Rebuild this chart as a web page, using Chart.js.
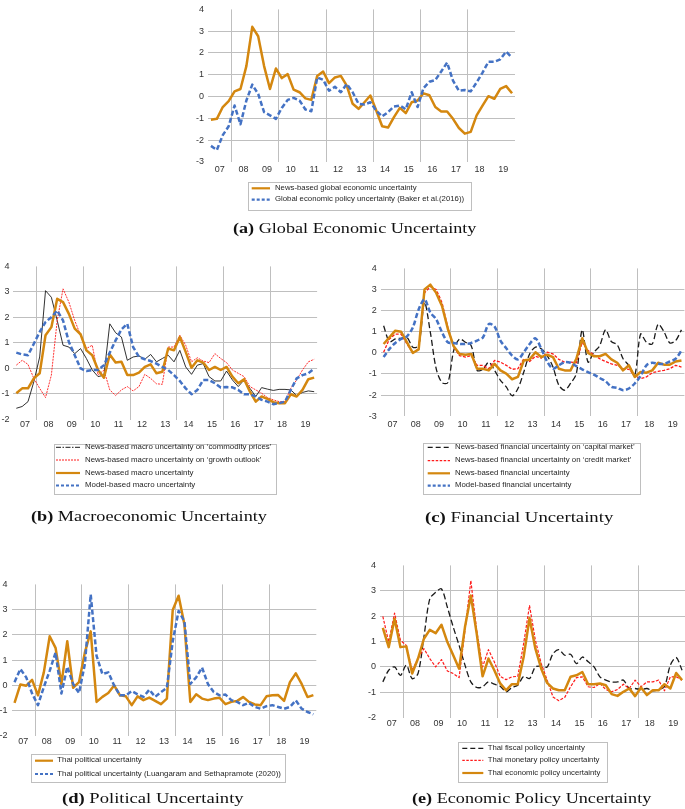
<!DOCTYPE html>
<html>
<head>
<meta charset="utf-8">
<script src="https://cdn.jsdelivr.net/npm/chart.js@4.4.0/dist/chart.umd.min.js"></script>
<style>
body { margin:0; background:#fff; width:685px; height:809px; position:relative; overflow:hidden; font-family:"Liberation Sans", Arial, sans-serif; }
canvas { position:absolute; }
.legend { position:absolute; border:1px solid #bfbfbf; box-sizing:border-box; }
.ltext { position:absolute; white-space:nowrap; color:#262626; line-height:1; }
.caption { position:absolute; white-space:nowrap; font-family:"Liberation Serif", "Times New Roman", serif; color:#111; line-height:1; transform-origin:left center; }
#samples { position:absolute; left:0; top:0; }
</style>
</head>
<body>
<canvas id="ca"></canvas>
<canvas id="cb"></canvas>
<canvas id="cc"></canvas>
<canvas id="cd"></canvas>
<canvas id="ce"></canvas>
<svg id="samples" width="685" height="809"></svg>
<script>
// quarterly data, 2007Q1 - 2019Q4
const yearLabels = ['07','08','09','10','11','12','13','14','15','16','17','18','19'];

// (a) Global economic uncertainty
const aNews = [-1.06,-1.02,-0.48,-0.21,0.24,0.35,1.4,3.2,2.77,1.4,
  0.35,1.29,0.85,1.03,0.32,0.2,-0.08,-0.15,0.95,1.15,
  0.62,0.88,0.95,0.5,-0.33,-0.56,-0.26,0.05,-0.64,-1.36,
  -1.42,-0.94,-0.52,-0.76,-0.26,-0.18,0.15,0.06,-0.48,-0.68,
  -0.68,-1.02,-1.44,-1.7,-1.62,-0.86,-0.41,0.02,-0.1,0.35,
  0.48,0.15];
const aBaker = [-2.26,-2.45,-1.77,-1.36,-0.41,-1.27,-0.18,0.55,0.12,-0.71,
  -0.86,-1.02,-0.52,-0.15,-0.06,-0.18,-0.59,-0.67,0.88,0.77,
  0.27,0.45,0.2,0.58,0.2,-0.33,-0.36,-0.26,-0.64,-0.91,
  -0.71,-0.45,-0.41,-0.58,0.2,-0.48,0.39,0.68,0.76,1.15,
  1.56,0.73,0.27,0.3,0.24,0.65,1.1,1.6,1.6,1.71,
  2.06,1.79];

// (b) Macroeconomic uncertainty
const bCommodity = [-1.56,-1.49,-1.3,-0.52,0.45,3.05,2.79,1.88,0.91,0.84,
  0.58,0.78,0.39,-0.06,-0.32,-0.26,1.75,1.4,1.23,0.32,
  0.45,0.49,0.36,0.55,0.26,0.39,0.52,0.26,0.71,0.06,
  -0.23,0.13,0.19,-0.32,-0.49,-0.49,-0.1,-0.45,-0.71,-0.45,
  -0.78,-1.1,-0.75,-0.81,-0.86,-0.82,-0.82,-0.84,-1.06,-0.94,
  -0.88,-0.91];
const bGrowth = [0.13,0.32,0.16,-0.39,-0.78,-1.14,-0.26,1.88,3.12,2.6,
  1.88,1.3,0.78,0.91,-0.26,-0.06,-0.84,-1.06,-0.84,-0.71,
  -0.88,-0.71,-0.23,-0.39,-0.6,-0.62,0.84,0.84,1.3,0.91,
  0.26,0.42,0.29,0.23,0.58,0.39,0.23,-0.06,-0.19,-0.32,
  -0.71,-0.84,-0.97,-1.14,-1.23,-1.3,-1.3,-0.78,-0.45,-0.06,
  0.26,0.36];
const bNews = [-0.97,-0.78,-0.78,-0.39,-0.19,1.3,1.62,2.73,2.6,2.14,
  1.56,1.34,0.71,0.52,-0.06,-0.36,0.55,0.23,0.26,-0.26,
  -0.26,-0.16,0.06,0.16,-0.19,-0.13,0.78,0.71,1.23,0.65,
  0.03,0.32,0.23,-0.06,0.06,-0.06,0.06,-0.32,-0.58,-0.42,
  -0.91,-1.3,-1.1,-1.19,-1.32,-1.36,-1.36,-1.01,-1.1,-0.84,
  -0.42,-0.36];
const bModel = [0.62,0.55,0.52,0.97,1.43,1.82,2.01,2.27,1.88,1.04,
  0.52,0,-0.1,-0.06,-0.06,0.13,0.62,1.1,1.53,1.75,
  0.84,0.45,0.36,0.29,0.19,0.06,-0.06,-0.26,-0.49,-0.78,
  -1.01,-0.84,-0.45,-0.45,-0.58,-0.75,-0.73,-0.74,-0.84,-1.01,
  -1.01,-1.1,-1.23,-1.3,-1.4,-1.36,-1.3,-0.84,-0.39,-0.26,
  -0.19,0];

// (c) Financial uncertainty
const cCapital = [1.28,0.53,0.66,0.69,0.73,0.27,0.34,2.38,0.97,-0.75,
  -1.41,-1.41,0.11,0.66,0.5,0.34,-0.83,-0.78,-0.44,-0.83,
  -1.3,-1.61,-2.03,-1.69,-0.91,-0.05,0.27,0.19,-0.13,-0.67,
  -1.53,-1.77,-1.45,-0.98,1.09,-0.44,0.03,0.34,1.09,0.53,
  0.38,-0.28,-0.59,-1.06,0.89,0.5,0.42,1.36,1.0,0.47,
  0.58,1.09];
const cCredit = [0.03,0.66,0.89,0.89,0.42,0,0.19,2.84,3.13,3.0,
  2.38,1.2,0.27,-0.13,-0.2,-0.13,-0.59,-0.59,-0.75,-0.36,
  -0.44,-0.59,-0.78,-0.75,-0.28,-0.41,-0.16,-0.25,0.03,-0.05,
  -0.31,-0.44,-0.44,-0.47,0.5,0.11,-0.09,-0.28,-0.41,-0.52,
  -0.59,-0.75,-0.78,-1.09,-1.22,-1.14,-0.94,-0.88,-0.83,-0.75,
  -0.59,-0.67];
const cNews = [0.42,0.73,1.05,1.0,0.5,0,0.16,3.0,3.23,2.84,
  2.22,1.13,0.31,-0.05,-0.09,-0.05,-0.75,-0.75,-0.83,-0.52,
  -0.83,-0.98,-1.25,-1.14,-0.36,-0.31,0.03,-0.2,-0.09,-0.2,
  -0.75,-0.83,-0.83,-0.28,0.69,0,-0.16,-0.16,-0.05,-0.31,
  -0.47,-0.83,-0.59,-1.14,-0.91,-0.94,-0.83,-0.47,-0.56,-0.56,
  -0.41,-0.36];
const cModel = [-0.2,0.19,0.47,0.66,0.78,1.2,2.06,2.53,1.91,1.59,
  0.97,0.5,0.47,0.42,0.42,0.47,0.58,0.73,1.36,1.25,
  0.58,0.22,-0.13,-0.31,0.03,0.42,0.69,0.19,-0.41,-0.75,
  -0.59,-0.44,-0.47,-0.63,-0.78,-0.91,-1.03,-1.19,-1.34,-1.61,
  -1.66,-1.77,-1.69,-1.45,-1.09,-0.59,-0.47,-0.52,-0.52,-0.41,
  -0.28,0.11];

// (d) Political uncertainty
const dThai = [-0.69,0.04,-0.01,0.22,-0.39,0.52,1.95,1.49,0.06,1.75,
  -0.09,0.13,1.3,2.14,-0.65,-0.45,-0.3,0,-0.39,-0.43,
  -0.78,-0.43,-0.58,-0.48,-0.61,-0.74,-0.52,2.99,3.55,2.4,
  -0.65,-0.35,-0.52,-0.58,-0.52,-0.49,-0.74,-0.65,-0.61,-0.46,
  -0.65,-0.75,-0.78,-0.43,-0.39,-0.38,-0.61,0.13,0.48,0.06,
  -0.46,-0.38];
const dLuang = [0.13,0.65,0.32,-0.32,-0.78,-0.06,0.58,1.3,-0.32,0.74,
  0.06,-0.3,0.84,3.6,1.17,0.45,0.52,0,-0.39,-0.39,
  -0.22,-0.35,-0.45,-0.17,-0.45,-0.26,-0.09,1.75,2.95,2.53,
  0.06,0.32,0.71,0.06,-0.26,-0.39,-0.36,-0.58,-0.65,-0.78,
  -0.69,-0.85,-0.92,-0.82,-0.78,-0.85,-0.92,-0.85,-0.59,-0.92,
  -1.05,-1.14];

// (e) Economic policy uncertainty
const eFiscal = [-0.59,-0.13,0,-0.33,0.07,-0.46,-0.26,1.18,2.68,2.94,
  3.07,2.35,1.57,0.85,0.07,-0.59,-0.81,-0.78,-0.59,-0.68,
  -0.76,-0.98,-0.81,-0.72,-0.37,-0.46,0,0.03,0,0.52,
  0.68,0.46,0.5,0.13,0.39,0.2,0,-0.39,-0.52,-0.59,
  -0.59,-0.52,-0.85,-0.85,-0.89,-0.85,-0.94,-0.89,-0.78,0.07,
  0.37,-0.13];
const eMonetary = [1.99,0.98,2.12,1.05,0.85,-0.13,0.33,0.72,0.33,0,
  0.29,-0.16,-0.26,-0.42,1.44,3.4,1.44,0,0.68,0.2,
  -0.37,-0.5,-0.39,-0.37,0.92,2.42,1.05,0.13,-0.52,-1.18,
  -1.33,-1.2,-0.78,-0.42,-0.39,-0.78,-0.81,-0.65,-0.89,-0.98,
  -0.89,-0.68,-0.85,-0.52,-0.78,-0.59,-0.59,-0.52,-0.94,-0.39,
  -0.39,-0.52];
const eEPU = [1.54,0.78,1.9,0.78,0.81,-0.26,0.33,1.11,1.46,1.33,
  1.66,0.98,0.46,-0.07,1.57,2.81,1.31,-0.37,0.33,-0.13,
  -0.65,-0.92,-0.68,-0.68,0.39,1.93,0.72,-0.07,-0.63,-0.85,
  -0.92,-0.92,-0.39,-0.33,-0.2,-0.68,-0.68,-0.65,-0.72,-1.07,
  -1.14,-0.98,-0.85,-1.15,-0.81,-1.11,-0.92,-0.92,-0.68,-0.85,
  -0.24,-0.52];

const ORANGE = '#D4870F';
const BLUE = '#4472C4';
const BLACK = '#1a1a1a';
const RED = '#FF1A1A';
const GRID = '#BFBFBF';

// year label sits in the middle of its 4 quarters, grid every 2 years
const labelTicks = yearLabels.map((_, k) => 4 * k + 1.5);
const gridTicks = [3.5, 11.5, 19.5, 27.5, 35.5, 43.5];

Chart.defaults.font.family = '"Liberation Sans", Arial, sans-serif';

function series(values, color, width, dash, tension) {
    return {
        data: values.map((v, i) => ({ x: i, y: v })),
        borderColor: color,
        borderWidth: width,
        borderDash: dash || [],
        borderJoinStyle: 'round',
        pointRadius: 0,
        tension: tension || 0,
        fill: false
    };
}

function drawPanel(id, box, yMin, yMax, xPad, sets) {
    const canvas = document.getElementById(id);
    const cLeft = Math.floor(box.left - 30);
    const yw = box.left - cLeft;
    const cTop = Math.floor(box.top - 8);
    const pt = box.top - cTop;
    const cw = box.right - box.left, ch = box.bottom - box.top;
    const W = Math.ceil(yw + cw), H = Math.ceil(pt + ch + 16);
    const pr = W - yw - cw;
    const xh = H - pt - ch;
    canvas.width = W; canvas.height = H;
    canvas.style.left = cLeft + 'px'; canvas.style.top = cTop + 'px';
    canvas.style.width = W + 'px'; canvas.style.height = H + 'px';
    sets.forEach((s, i) => { s.order = sets.length - i; });

    new Chart(canvas, {
        type: 'line',
        data: { datasets: sets },
        options: {
            responsive: false, animation: false, devicePixelRatio: 1,
            layout: { padding: { top: pt, right: pr, left: 0, bottom: 0 } },
            plugins: { legend: { display: false }, tooltip: { enabled: false } },
            scales: {
                x: {
                    type: 'linear', min: -0.5, max: 51.5,
                    afterFit: s => { s.height = xh; },
                    afterBuildTicks: s => {
                        s.ticks = labelTicks.concat(gridTicks).sort((a, b) => a - b).map(v => ({ value: v }));
                    },
                    ticks: {
                        autoSkip: false, maxRotation: 0, minRotation: 0, padding: xPad,
                        color: '#333', font: { size: 9 },
                        callback: v => { const k = labelTicks.indexOf(v); return k >= 0 ? yearLabels[k] : ''; }
                    },
                    grid: {
                        drawTicks: false, lineWidth: 1,
                        color: c => (c.tick && gridTicks.includes(c.tick.value)) ? GRID : 'rgba(0,0,0,0)'
                    },
                    border: { display: false }
                },
                y: {
                    min: yMin, max: yMax,
                    afterFit: s => { s.width = yw; },
                    ticks: { stepSize: 1, padding: 4, color: '#333', font: { size: 9 }, callback: v => String(v) },
                    grid: {
                        drawTicks: false, lineWidth: 1,
                        color: c => (c.tick && (c.tick.value === yMin || c.tick.value === yMax)) ? 'rgba(0,0,0,0)' : GRID
                    },
                    border: { display: false }
                }
            }
        }
    });
}

drawPanel('ca', { left: 208, right: 515, top: 8, bottom: 162 }, -3, 4, 2, [
    series(aNews, ORANGE, 2.5),
    series(aBaker, BLUE, 2.5, [5, 2.5])
]);
drawPanel('cb', { left: 13.4, right: 317.1, top: 265.9, bottom: 419.5 }, -2, 4, 0, [
    series(bCommodity, BLACK, 0.9),
    series(bGrowth, RED, 0.9, [2, 1]),
    series(bNews, ORANGE, 2.5),
    series(bModel, BLUE, 2.5, [5, 2.5])
]);
drawPanel('cc', { left: 380.7, right: 684.4, top: 267.1, bottom: 416.2 }, -3, 4, 3, [
    series(cCapital, BLACK, 1.3, [6, 3], 0.3),
    series(cCredit, RED, 1.3, [3, 1.5]),
    series(cNews, ORANGE, 2.5),
    series(cModel, BLUE, 2.5, [5, 2.5], 0.3)
]);
drawPanel('cd', { left: 11.6, right: 316.3, top: 583, bottom: 736 }, -2, 4, 0.5, [
    series(dThai, ORANGE, 2.5),
    series(dLuang, BLUE, 2.5, [5, 2.5])
]);
drawPanel('ce', { left: 379.9, right: 685, top: 564.7, bottom: 717.7 }, -2, 4, 0.5, [
    series(eFiscal, BLACK, 1.3, [6, 3], 0.3),
    series(eMonetary, RED, 1.2, [3, 1.5]),
    series(eEPU, ORANGE, 2.5)
]);

// Legends
const svg = document.getElementById('samples');
function sample(x0, x1, y, color, width, dash) {
    const l = document.createElementNS('http://www.w3.org/2000/svg', 'line');
    l.setAttribute('x1', x0); l.setAttribute('x2', x1);
    l.setAttribute('y1', y); l.setAttribute('y2', y);
    l.setAttribute('stroke', color); l.setAttribute('stroke-width', width);
    if (dash) l.setAttribute('stroke-dasharray', dash);
    svg.appendChild(l);
}

function legend(box, sx0, sx1, tx, refRow, refWidth, rows) {
    const d = document.createElement('div');
    d.className = 'legend';
    d.style.left = box[0] + 'px'; d.style.top = box[1] + 'px';
    d.style.width = (box[2] - box[0]) + 'px'; d.style.height = (box[3] - box[1]) + 'px';
    document.body.appendChild(d);
    const spans = rows.map(r => {
        const s = document.createElement('span');
        s.className = 'ltext';
        s.textContent = r.label;
        s.style.fontSize = '8px';
        s.style.left = tx + 'px';
        document.body.appendChild(s);
        sample(sx0, sx1, r.y, r.color, r.width, r.dash);
        return s;
    });
    const size = 8 * refWidth / spans[refRow].getBoundingClientRect().width;
    spans.forEach((s, i) => {
        s.style.fontSize = size + 'px';
        s.style.top = (rows[i].y - size * 0.55) + 'px';
    });
}

legend([248, 182, 472, 211], 251.7, 270, 275, 0, 141.7, [
    { y: 188.3, label: 'News-based global economic uncertainty', color: ORANGE, width: 2.2 },
    { y: 199.7, label: 'Global economic policy uncertainty (Baker et al.(2016))', color: BLUE, width: 2.2, dash: '3 2' }
]);
legend([54, 444, 277, 495], 56, 80, 85, 0, 186.7, [
    { y: 447.3, label: 'News-based macro uncertainty on \u2018commodity prices\u2019', color: BLACK, width: 1, dash: '5 1.5 1.5 1.5' },
    { y: 460, label: 'News-based macro uncertainty on \u2018growth outlook\u2019', color: RED, width: 1, dash: '2 1' },
    { y: 473, label: 'News-based macro uncertainty', color: ORANGE, width: 2.2 },
    { y: 485.5, label: 'Model-based macro uncertainty', color: BLUE, width: 2.2, dash: '3 2' }
]);
legend([423, 443, 641, 495], 427.7, 450, 455, 0, 180, [
    { y: 447.3, label: 'News-based financial uncertainty on \u2018capital market\u2019', color: BLACK, width: 1.3, dash: '5 3' },
    { y: 460.7, label: 'News-based financial uncertainty on \u2018credit market\u2019', color: RED, width: 1.2, dash: '2.5 1.5' },
    { y: 473.3, label: 'News-based financial uncertainty', color: ORANGE, width: 2.2 },
    { y: 485.7, label: 'Model-based financial uncertainty', color: BLUE, width: 2.2, dash: '3 2' }
]);
legend([31, 754, 286, 783], 35, 53, 57.3, 1, 224.3, [
    { y: 760.7, label: 'Thai political uncertainty', color: ORANGE, width: 2.2 },
    { y: 774, label: 'Thai political uncertainty (Luangaram and Sethapramote (2020))', color: BLUE, width: 2.2, dash: '3 2' }
]);
legend([457.7, 742, 607.7, 783], 462.3, 483.3, 487.7, 0, 97.3, [
    { y: 748.3, label: 'Thai fiscal policy uncertainty', color: BLACK, width: 1.3, dash: '5 3' },
    { y: 760.3, label: 'Thai monetary policy uncertainty', color: RED, width: 1.2, dash: '2.5 1.5' },
    { y: 773, label: 'Thai economic policy uncertainty', color: ORANGE, width: 2.2 }
]);

// Captions: font size set from the glyph height, stretched to the measured width
function caption(tag, text, left, width, cy) {
    const c = document.createElement('div');
    c.className = 'caption';
    const b = document.createElement('b');
    b.textContent = tag;
    c.appendChild(b);
    c.appendChild(document.createTextNode(' ' + text));
    c.style.fontSize = '15.5px';
    c.style.left = left + 'px';
    c.style.top = (cy - 15.5 * 0.55) + 'px';
    document.body.appendChild(c);
    const sx = width / c.getBoundingClientRect().width;
    c.style.transform = 'scaleX(' + sx + ')';
}

caption('(a)', 'Global Economic Uncertainty', 233.3, 243.4, 228.3);
caption('(b)', 'Macroeconomic Uncertainty', 30.7, 236, 516.7);
caption('(c)', 'Financial Uncertainty', 425, 188.3, 517.3);
caption('(d)', 'Political Uncertainty', 61.7, 181.6, 798.3);
caption('(e)', 'Economic Policy Uncertainty', 411.7, 239.3, 798.3);
</script>
</body>
</html>
